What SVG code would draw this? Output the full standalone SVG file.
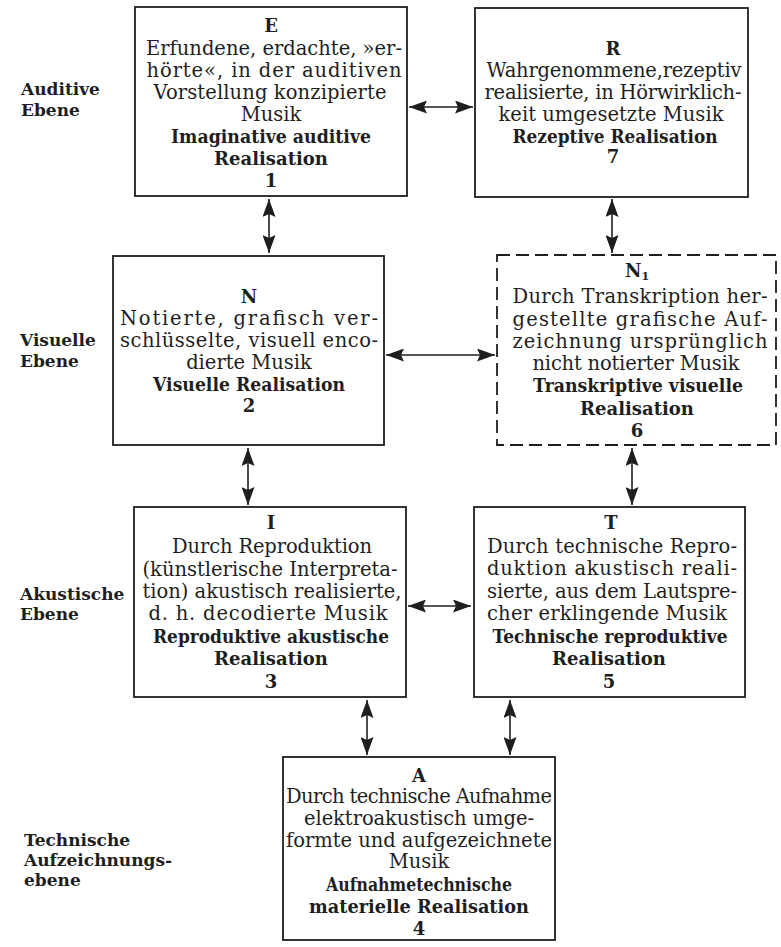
<svg xmlns="http://www.w3.org/2000/svg" width="781" height="947" viewBox="0 0 781 947">
<style>
.bg{fill:#ffffff}
.box{fill:none;stroke:#1e1e1e;stroke-width:1.8}
.dash{stroke-dasharray:13 6}
.t{font-family:"DejaVu Serif","Liberation Serif",serif;font-size:19.5px;fill:#1e1e1e;text-anchor:middle}
.b{font-weight:bold;font-size:18px}
.lbl{font-family:"DejaVu Serif","Liberation Serif",serif;font-size:17px;font-weight:bold;fill:#1e1e1e}
.con{stroke:#1e1e1e;stroke-width:1.6;fill:none;marker-start:url(#ah);marker-end:url(#ah)}
</style>
<defs>
<marker id="ah" markerUnits="userSpaceOnUse" markerWidth="19" markerHeight="13" refX="18" refY="6.5" orient="auto-start-reverse">
<path d="M0,0 L18,6.5 L0,13 L3,6.5 z" fill="#1e1e1e"/>
</marker>
</defs>
<rect class="bg" x="0" y="0" width="781" height="947"/>

<g id="labels">
<text class="lbl" x="21" y="95">Auditive</text>
<text class="lbl" x="21" y="116">Ebene</text>
<text class="lbl" x="20" y="346">Visuelle</text>
<text class="lbl" x="20" y="367">Ebene</text>
<text class="lbl" x="20" y="600">Akustische</text>
<text class="lbl" x="20" y="620">Ebene</text>
<text class="lbl" x="24" y="846">Technische</text>
<text class="lbl" x="24" y="866">Aufzeichnungs-</text>
<text class="lbl" x="24" y="886">ebene</text>
</g>

<g id="node-E">
<rect class="box" x="135" y="7" width="272" height="189"/>
<text class="t b" x="271" y="32">E</text>
<text class="t" x="274" y="55" textLength="256" lengthAdjust="spacing">Erfundene, erdachte, »er-</text>
<text class="t" x="274" y="77" textLength="255" lengthAdjust="spacing">hörte«, in der auditiven</text>
<text class="t" x="270" y="99" textLength="233" lengthAdjust="spacing">Vorstellung konzipierte</text>
<text class="t" x="271" y="121">Musik</text>
<text class="t b" x="271" y="143" textLength="200" lengthAdjust="spacingAndGlyphs">Imaginative auditive</text>
<text class="t b" x="271" y="165">Realisation</text>
<text class="t b" x="271" y="187">1</text>
</g>

<g id="node-R">
<rect class="box" x="475" y="8" width="273" height="189"/>
<text class="t b" x="613" y="55">R</text>
<text class="t" x="614" y="77" textLength="255" lengthAdjust="spacing">Wahrgenommene,rezeptiv</text>
<text class="t" x="613" y="99" textLength="257" lengthAdjust="spacing">realisierte, in Hörwirklich-</text>
<text class="t" x="611" y="121" textLength="225" lengthAdjust="spacing">keit umgesetzte Musik</text>
<text class="t b" x="615" y="143" textLength="205" lengthAdjust="spacingAndGlyphs">Rezeptive Realisation</text>
<text class="t b" x="613" y="163">7</text>
</g>

<g id="node-N">
<rect class="box" x="113" y="256" width="271" height="189"/>
<text class="t b" x="249" y="303">N</text>
<text class="t" x="249" y="325" textLength="258" lengthAdjust="spacing">Notierte, grafisch ver-</text>
<text class="t" x="249" y="347" textLength="258" lengthAdjust="spacing">schlüsselte, visuell enco-</text>
<text class="t" x="249" y="369">dierte Musik</text>
<text class="t b" x="249" y="391" textLength="192" lengthAdjust="spacingAndGlyphs">Visuelle Realisation</text>
<text class="t b" x="249" y="412">2</text>
</g>

<g id="node-N1">
<rect class="box dash" x="497" y="255" width="279" height="190"/>
<text class="t b" x="637" y="277">N<tspan font-size="11" dy="3">1</tspan></text>
<text class="t" x="640" y="303" textLength="255" lengthAdjust="spacing">Durch Transkription her-</text>
<text class="t" x="640" y="326" textLength="255" lengthAdjust="spacing">gestellte grafische Auf-</text>
<text class="t" x="640" y="348" textLength="255" lengthAdjust="spacing">zeichnung ursprünglich</text>
<text class="t" x="636" y="370" textLength="207" lengthAdjust="spacing">nicht notierter Musik</text>
<text class="t b" x="638" y="392" textLength="210" lengthAdjust="spacingAndGlyphs">Transkriptive visuelle</text>
<text class="t b" x="637" y="415">Realisation</text>
<text class="t b" x="637" y="437">6</text>
</g>

<g id="node-I">
<rect class="box" x="134" y="507" width="272" height="190"/>
<text class="t b" x="271" y="529">I</text>
<text class="t" x="272" y="553" textLength="200" lengthAdjust="spacing">Durch Reproduktion</text>
<text class="t" x="270" y="576" textLength="255" lengthAdjust="spacing">(künstlerische Interpreta-</text>
<text class="t" x="272" y="598" textLength="259" lengthAdjust="spacing">tion) akustisch realisierte,</text>
<text class="t" x="268" y="620" textLength="239" lengthAdjust="spacing">d. h. decodierte Musik</text>
<text class="t b" x="271" y="643" textLength="236" lengthAdjust="spacingAndGlyphs">Reproduktive akustische</text>
<text class="t b" x="271" y="665">Realisation</text>
<text class="t b" x="271" y="688">3</text>
</g>

<g id="node-T">
<rect class="box" x="474" y="507" width="271" height="190"/>
<text class="t b" x="611" y="529">T</text>
<text class="t" x="612" y="553" textLength="250" lengthAdjust="spacing">Durch technische Repro-</text>
<text class="t" x="612" y="575" textLength="250" lengthAdjust="spacing">duktion akustisch reali-</text>
<text class="t" x="612" y="598" textLength="250" lengthAdjust="spacing">sierte, aus dem Lautspre-</text>
<text class="t" x="607" y="620" textLength="240" lengthAdjust="spacing">cher erklingende Musik</text>
<text class="t b" x="610" y="643" textLength="235" lengthAdjust="spacingAndGlyphs">Technische reproduktive</text>
<text class="t b" x="609" y="665">Realisation</text>
<text class="t b" x="609" y="688">5</text>
</g>

<g id="node-A">
<rect class="box" x="283" y="757" width="272" height="183"/>
<text class="t b" x="419" y="782">A</text>
<text class="t" x="419" y="803" textLength="266" lengthAdjust="spacing">Durch technische Aufnahme</text>
<text class="t" x="419" y="825" textLength="230" lengthAdjust="spacing">elektroakustisch umge-</text>
<text class="t" x="419" y="847" textLength="266" lengthAdjust="spacing">formte und aufgezeichnete</text>
<text class="t" x="419" y="868">Musik</text>
<text class="t b" x="419" y="891" textLength="186" lengthAdjust="spacingAndGlyphs">Aufnahmetechnische</text>
<text class="t b" x="419" y="913" textLength="220" lengthAdjust="spacingAndGlyphs">materielle Realisation</text>
<text class="t b" x="419" y="935">4</text>
</g>

<g id="connectors">
<line class="con" x1="409" y1="107" x2="473" y2="107"/>
<line class="con" x1="269" y1="199" x2="269" y2="253"/>
<line class="con" x1="612" y1="199" x2="612" y2="253"/>
<line class="con" x1="386" y1="355" x2="495" y2="355"/>
<line class="con" x1="248" y1="448" x2="248" y2="505"/>
<line class="con" x1="632" y1="448" x2="632" y2="505"/>
<line class="con" x1="408" y1="606" x2="471" y2="606"/>
<line class="con" x1="367" y1="700" x2="367" y2="755"/>
<line class="con" x1="510" y1="700" x2="510" y2="755"/>
</g>
</svg>
